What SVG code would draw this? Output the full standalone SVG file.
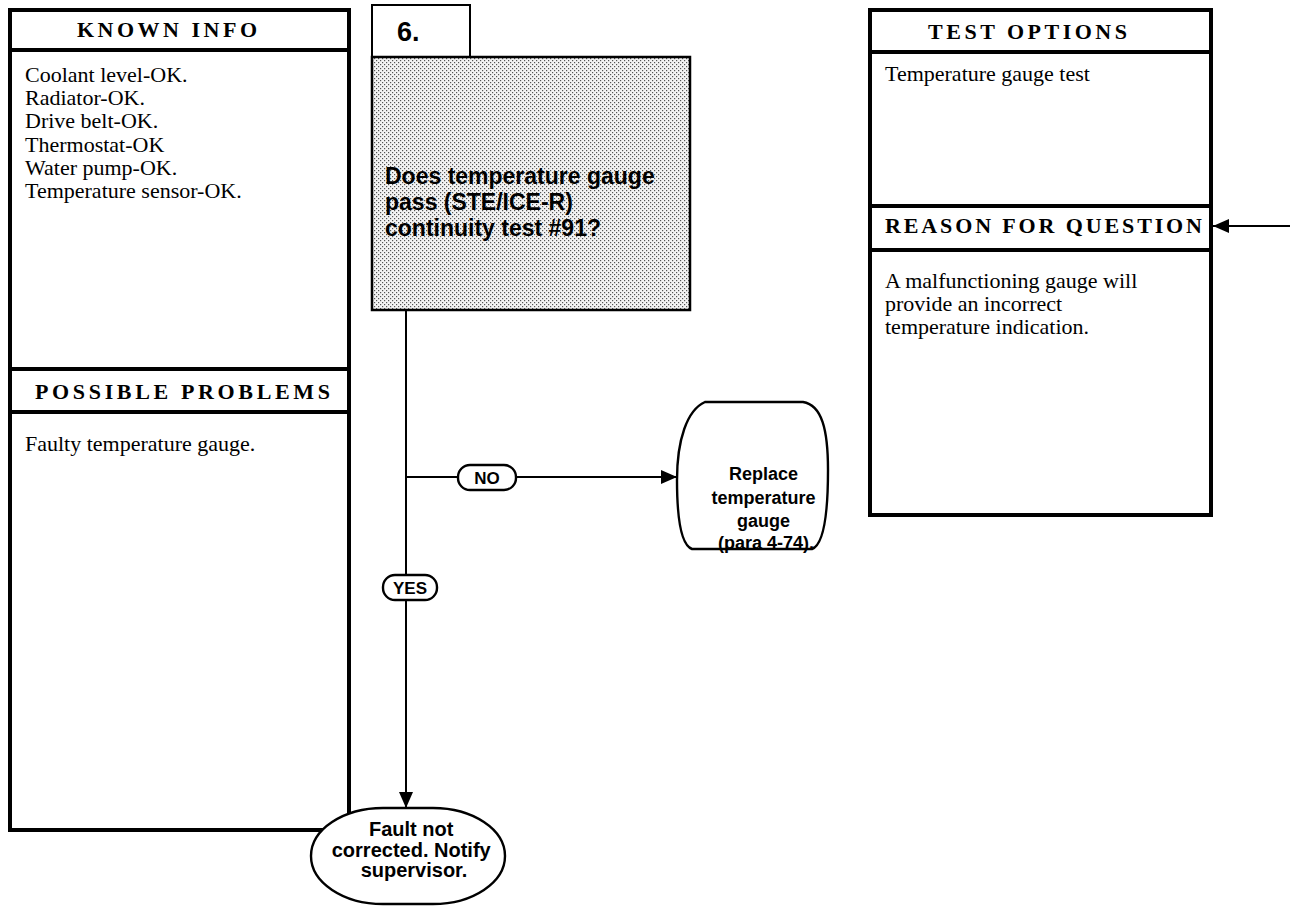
<svg xmlns="http://www.w3.org/2000/svg" width="1290" height="907" viewBox="0 0 1290 907">
  <defs>
    <style>
      .frame { fill: none; stroke: #000; stroke-width: 4; }
      .rule { stroke: #000; stroke-width: 4; }
      .head { font-family: "Liberation Serif", "Times New Roman", serif; font-weight: bold; font-size: 22px; fill: #000; }
      .body { font-family: "Liberation Serif", "Times New Roman", serif; font-size: 22px; fill: #000; }
      .flow { font-family: "Liberation Sans", Arial, sans-serif; font-weight: bold; fill: #000; }
      .wire { fill: none; stroke: #000; stroke-width: 2; }
      .outline { fill: #fff; stroke: #000; stroke-width: 2.4; }
    </style>
    <pattern id="halftone" width="4" height="4" patternUnits="userSpaceOnUse">
      <rect width="4" height="4" fill="#f4f4f4"/>
      <rect x="0" y="0" width="1.2" height="1.2" fill="#555"/>
      <rect x="2" y="2" width="1.2" height="1.2" fill="#555"/>
    </pattern>
    <marker id="arrow" viewBox="0 0 16 14" refX="16" refY="7" markerWidth="16" markerHeight="14" markerUnits="userSpaceOnUse" orient="auto">
      <path d="M0,0 L16,7 L0,14 Z" fill="#000"/>
    </marker>
  </defs>

  <!-- left column: known info / possible problems -->
  <g id="known-info">
    <rect class="frame" x="10" y="10" width="339" height="820"/>
    <line class="rule" x1="10" y1="50" x2="349" y2="50"/>
    <text class="head" x="77" y="37" textLength="180" lengthAdjust="spacing">KNOWN INFO</text>
    <text class="body" x="25" y="82">Coolant level-OK.</text>
    <text class="body" x="25" y="105">Radiator-OK.</text>
    <text class="body" x="25" y="128">Drive  belt-OK.</text>
    <text class="body" x="25" y="152">Thermostat-OK</text>
    <text class="body" x="25" y="175">Water pump-OK.</text>
    <text class="body" x="25" y="198">Temperature sensor-OK.</text>
  </g>
  <g id="possible-problems">
    <line class="rule" x1="10" y1="369" x2="349" y2="369"/>
    <line class="rule" x1="10" y1="412" x2="349" y2="412"/>
    <text class="head" x="35" y="399" textLength="295" lengthAdjust="spacing">POSSIBLE PROBLEMS</text>
    <text class="body" x="25" y="451">Faulty  temperature  gauge.</text>
  </g>

  <!-- step 6 question -->
  <g id="question">
    <rect x="372" y="5" width="98" height="52" fill="#fff" stroke="#000" stroke-width="2"/>
    <text class="flow" x="397" y="41" font-size="27">6.</text>
    <rect x="372" y="57" width="318" height="253" fill="url(#halftone)" stroke="#000" stroke-width="2.5"/>
    <text class="flow" font-size="23">
      <tspan x="385" y="184">Does temperature gauge</tspan>
      <tspan x="385" y="210">pass (STE/ICE-R)</tspan>
      <tspan x="385" y="236">continuity test #91?</tspan>
    </text>
  </g>

  <!-- right column: test options / reason for question -->
  <g id="test-options">
    <rect class="frame" x="870" y="10" width="341" height="505"/>
    <line class="rule" x1="870" y1="52" x2="1211" y2="52"/>
    <text class="head" x="928" y="39" textLength="199" lengthAdjust="spacing">TEST OPTIONS</text>
    <text class="body" x="885" y="81">Temperature  gauge  test</text>
  </g>
  <g id="reason">
    <line class="rule" x1="870" y1="206" x2="1211" y2="206"/>
    <line class="rule" x1="870" y1="250" x2="1211" y2="250"/>
    <text class="head" x="885" y="233" textLength="317" lengthAdjust="spacing">REASON FOR QUESTION</text>
    <text class="body">
      <tspan x="885" y="288">A malfunctioning gauge will</tspan>
      <tspan x="885" y="311">provide an incorrect</tspan>
      <tspan x="885" y="334">temperature indication.</tspan>
    </text>
  </g>

  <!-- outcomes -->
  <g id="replace-gauge">
    <path class="outline" d="M705,402 H803 C822,405 828,430 828,470 C828,515 823,545 812,549 H692 C681,545 677,520 677,480 C677,440 687,410 705,402 Z"/>
    <text class="flow" font-size="18" text-anchor="middle">
      <tspan x="766" y="480">Replace</tspan>
      <tspan x="766" y="504">temperature</tspan>
      <tspan x="766" y="527">gauge</tspan>
      <tspan x="766" y="549">(para 4-74).</tspan>
    </text>
  </g>
  <g id="fault-not-corrected">
    <rect class="outline" x="311" y="808" width="194" height="96" rx="72" ry="48"/>
    <text class="flow" font-size="20" text-anchor="middle">
      <tspan x="414" y="836">Fault  not</tspan>
      <tspan x="414" y="857">corrected. Notify</tspan>
      <tspan x="414" y="877">supervisor.</tspan>
    </text>
  </g>

  <!-- connectors -->
  <g id="connectors">
    <line class="wire" x1="406" y1="310" x2="406" y2="575"/>
    <line class="wire" x1="406" y1="477" x2="458" y2="477"/>
    <line class="wire" x1="516" y1="477" x2="677" y2="477" marker-end="url(#arrow)"/>
    <line class="wire" x1="406" y1="600" x2="406" y2="808" marker-end="url(#arrow)"/>
    <line class="wire" x1="1290" y1="226" x2="1213" y2="226" marker-end="url(#arrow)"/>
    <g id="label-no">
      <rect class="outline" x="458" y="465" width="58" height="25" rx="12" ry="12"/>
      <text class="flow" x="487" y="484" font-size="17" text-anchor="middle">NO</text>
    </g>
    <g id="label-yes">
      <rect class="outline" x="383" y="575" width="54" height="25" rx="12" ry="12"/>
      <text class="flow" x="410" y="594" font-size="17" text-anchor="middle">YES</text>
    </g>
  </g>
</svg>
